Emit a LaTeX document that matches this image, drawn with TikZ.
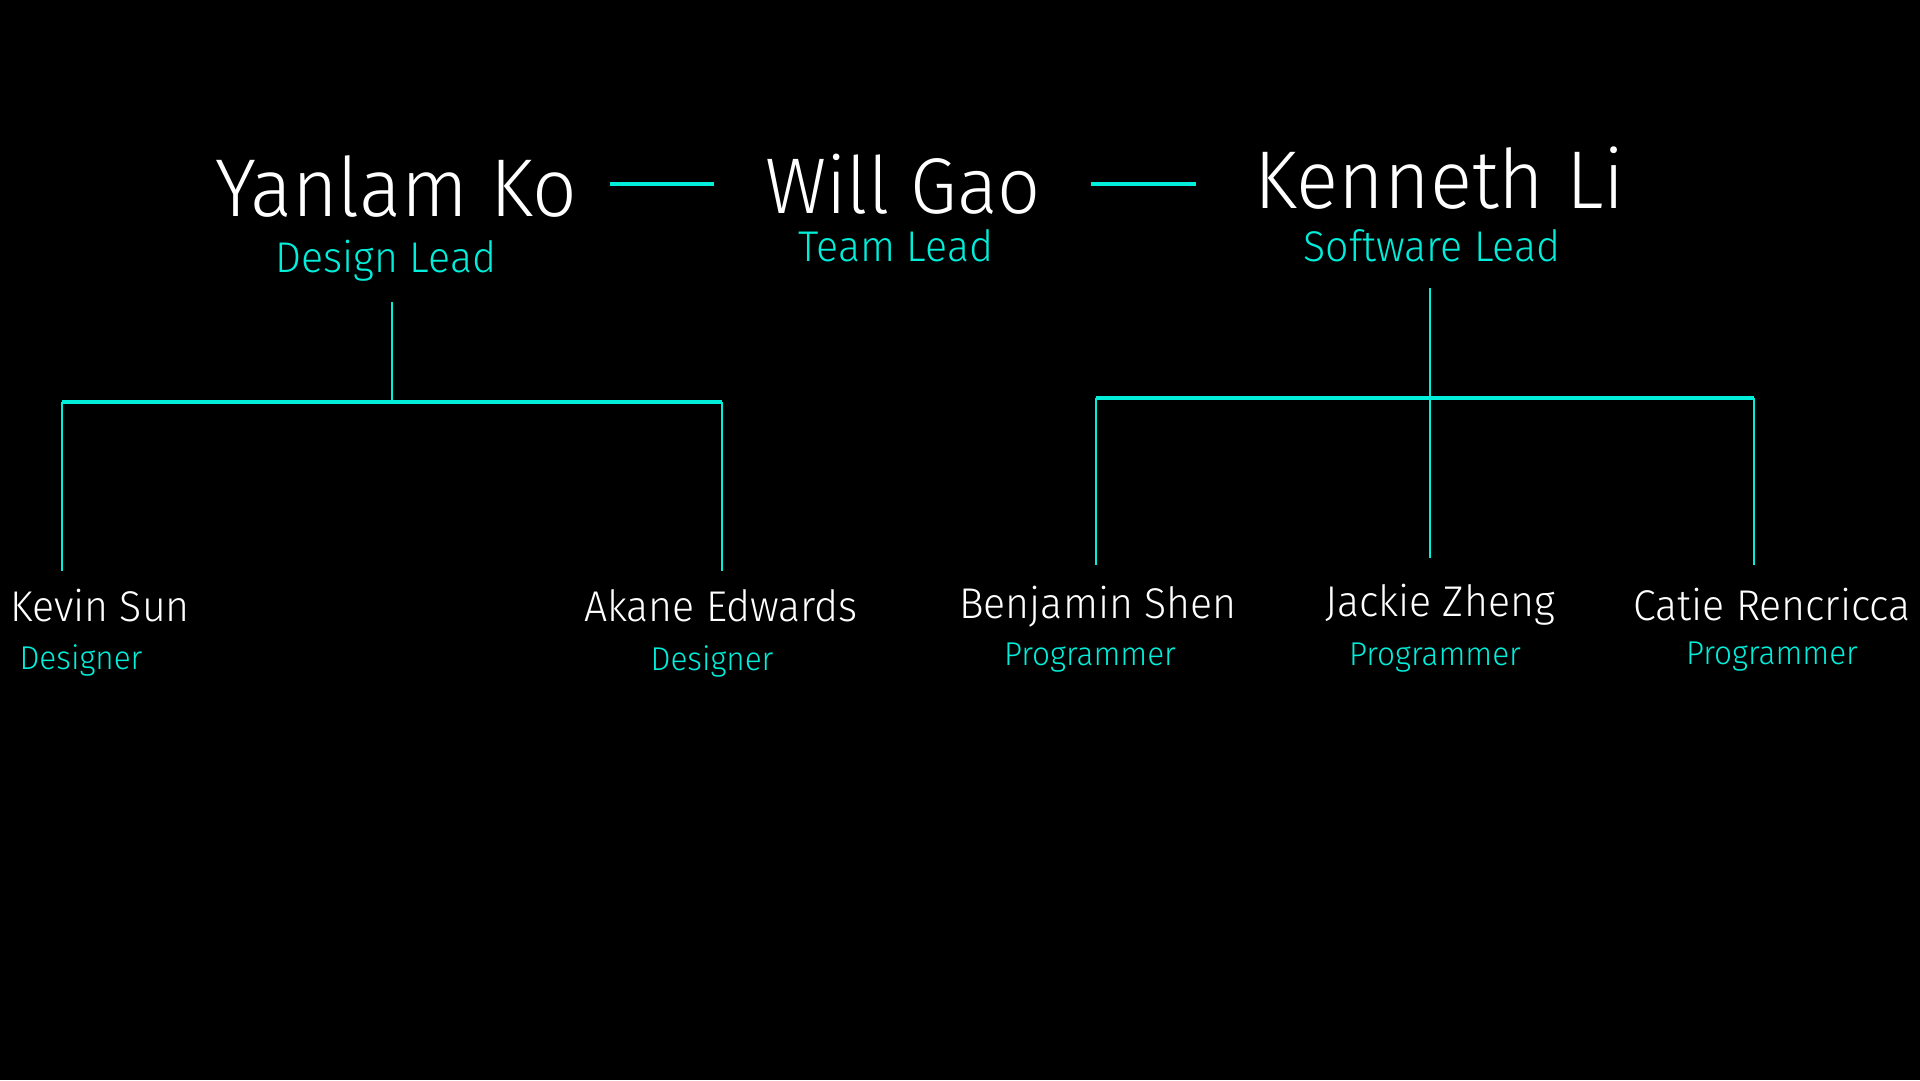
\documentclass[tikz,border=0pt]{standalone}
\usepackage{fontspec}
\setmainfont{Fira Sans}[UprightFont=* Light, FakeStretch=0.955]
\definecolor{tealc}{RGB}{0,238,218}
\tikzset{
  leadname/.style={inner sep=0pt, anchor=base, text=white, font=\fontsize{82}{82}\selectfont},
  leadrole/.style={inner sep=0pt, anchor=base, text=tealc, font=\fontsize{43}{43}\selectfont},
  membername/.style={inner sep=0pt, anchor=base, text=white, font=\fontsize{43}{43}\selectfont},
  memberrole/.style={inner sep=0pt, anchor=base, text=tealc, font=\fontsize{33}{33}\selectfont},
  treeline/.style={draw=tealc, line width=2.6pt},
  leadline/.style={draw=tealc, line width=4pt},
}
\begin{document}
\begin{tikzpicture}[x=1pt,y=-1pt]
\fill[black] (0,0) rectangle (1920,1080);
\useasboundingbox (0,0) rectangle (1920,1080);
% leads
\node[leadname] (yanlam) at (396,216) {Yanlam Ko};
\node[leadname, text depth=0pt, font=\fontsize{79}{79}\selectfont] (will) at (903,213) {Will Gao};
\node[leadname] (kenneth) at (1440,208) {Kenneth Li};
\node[leadrole] (designlead) at (386,272) {Design Lead};
\node[leadrole] (teamlead) at (896,261) {Team Lead};
\node[leadrole] (softlead) at (1432,261) {Software Lead};
% members
\node[membername] (kevin) at (100,621) {Kevin Sun};
\node[memberrole] (kevinr) at (81,669) {Designer};
\node[membername] (akane) at (721,621) {Akane Edwards};
\node[memberrole] (akaner) at (712,670) {Designer};
\node[membername] (benjamin) at (1098,618) {Benjamin Shen};
\node[memberrole] (benjaminr) at (1090,665) {Programmer};
\node[membername] (jackie) at (1440,616) {Jackie Zheng};
\node[memberrole] (jackier) at (1435,665) {Programmer};
\node[membername] (catie) at (1772,620) {Catie Rencricca};
\node[memberrole] (catier) at (1772,664) {Programmer};
% dashes between leads
\coordinate (d1a) at (610,184); \coordinate (d1b) at (714,184);
\coordinate (d2a) at (1091,184); \coordinate (d2b) at (1196,184);
\draw[leadline] (d1a) -- (d1b);
\draw[leadline] (d2a) -- (d2b);
% design tree
\coordinate (lt) at (392,302);
\coordinate (lb) at (392,402);
\coordinate (ll) at (62,402);
\coordinate (lr) at (722,402);
\coordinate (llb) at (62,571);
\coordinate (lrb) at (722,571);
\draw[treeline] (lt) -- (lb);
\draw[treeline, line width=3.2pt] (ll) -- (lr);
\draw[treeline] (ll) -- (llb);
\draw[treeline] (lr) -- (lrb);
% software tree
\coordinate (rt) at (1430,288);
\coordinate (rb) at (1430,558);
\coordinate (rl) at (1096,398);
\coordinate (rr) at (1754,398);
\coordinate (rlb) at (1096,565);
\coordinate (rrb) at (1754,565);
\draw[treeline] (rt) -- (rb);
\draw[treeline, line width=3.2pt] (rl) -- (rr);
\draw[treeline] (rl) -- (rlb);
\draw[treeline] (rr) -- (rrb);
\end{tikzpicture}
\end{document}
